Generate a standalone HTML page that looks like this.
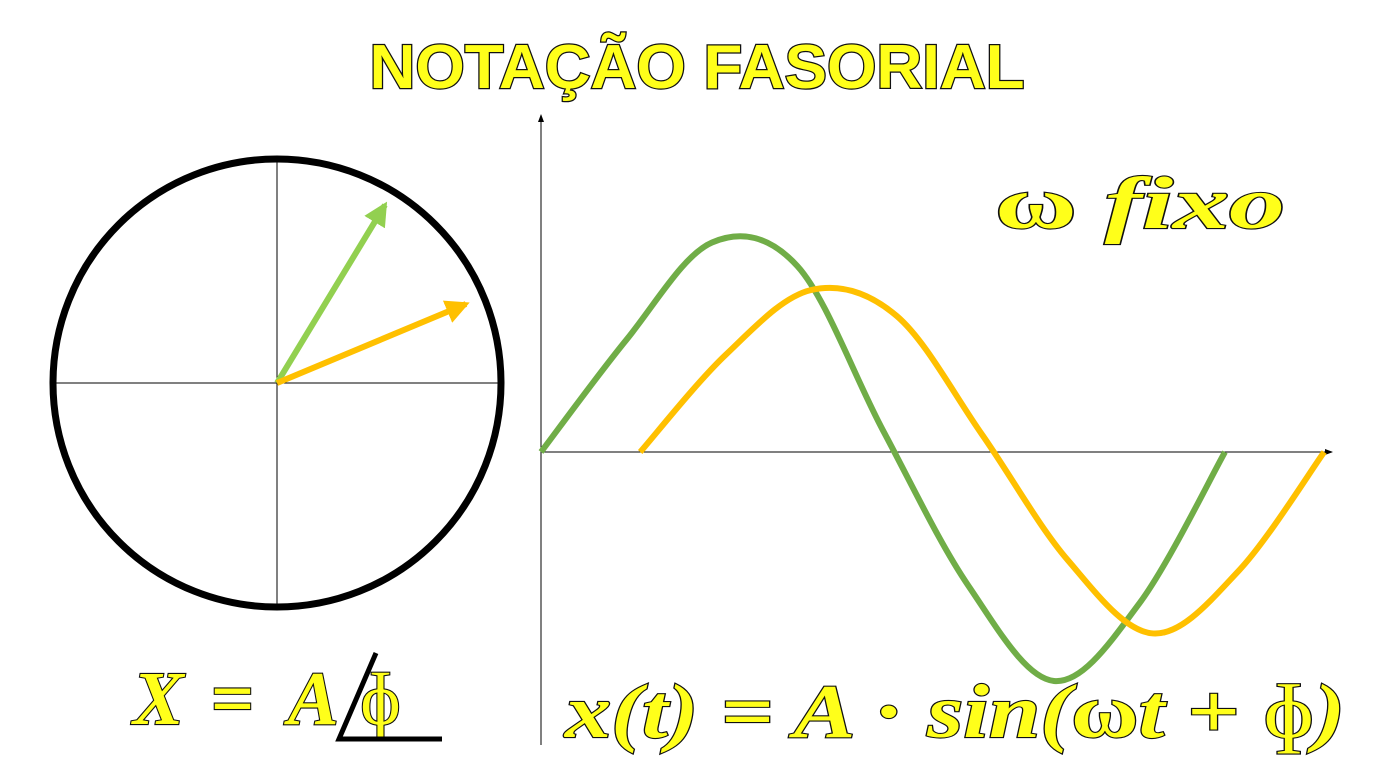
<!DOCTYPE html>
<html><head><meta charset="utf-8"><style>
html,body{margin:0;padding:0;background:#fff;}
svg{display:block;}
.yt{fill:#ffff1a;stroke:#111;stroke-width:2.2;paint-order:stroke;font-family:"Liberation Serif",serif;font-weight:bold;font-style:italic;}
.up{font-style:normal;}
</style></head><body>
<svg id="chart" width="1391" height="775" viewBox="0 0 1391 775">
<defs>
<marker id="ah" markerWidth="8" markerHeight="8" refX="7" refY="4" orient="auto" markerUnits="userSpaceOnUse"><path d="M0,1 L8,4 L0,7 z" fill="#000"/></marker>
<marker id="ag" markerWidth="26" markerHeight="24" refX="20" refY="12" orient="auto" markerUnits="userSpaceOnUse"><path d="M0,0 L24,12 L0,24 z" fill="#92d050"/></marker>
<marker id="ay" markerWidth="26" markerHeight="24" refX="20" refY="12" orient="auto" markerUnits="userSpaceOnUse"><path d="M0,0 L24,12 L0,24 z" fill="#ffc000"/></marker>
</defs>
<text x="697" y="88" text-anchor="middle" textLength="655" lengthAdjust="spacingAndGlyphs" font-family="Liberation Sans, sans-serif" font-weight="bold" font-size="62" fill="#ffff1a" stroke="#111" stroke-width="2.5" paint-order="stroke">NOTAÇÃO FASORIAL</text>

<g>
<line x1="52" y1="383" x2="502" y2="383" stroke="#000" stroke-width="1"/>
<line x1="277" y1="160" x2="277" y2="607" stroke="#000" stroke-width="1"/>
<circle cx="277" cy="383" r="224" fill="none" stroke="#000" stroke-width="7"/>
<line x1="277" y1="383" x2="385" y2="205" stroke="#92d050" stroke-width="6" marker-end="url(#ag)"/>
<line x1="277" y1="383" x2="466" y2="304" stroke="#ffc000" stroke-width="6" marker-end="url(#ay)"/>
</g>

<line x1="541" y1="745" x2="541" y2="115" stroke="#000" stroke-width="1" marker-end="url(#ah)"/>
<line x1="541" y1="452" x2="1332" y2="452" stroke="#000" stroke-width="1" marker-end="url(#ah)"/>
<g id="curves"></g>

<text class="yt" x="995" y="228" font-size="74" textLength="290" lengthAdjust="spacingAndGlyphs"><tspan class="up">ω</tspan> fixo</text>
<text class="yt" x="133" y="724" font-size="76">X</text>
<text class="yt up" x="211" y="724" font-size="76">=</text>
<text class="yt" x="288" y="724" font-size="76">A</text>
<text class="yt up" x="360" y="724" font-size="74" style="font-weight:normal">ɸ</text>
<polyline points="376,653 339,739 442,739" fill="none" stroke="#000" stroke-width="5"/>
<text class="yt" x="565" y="737" font-size="76" textLength="780" lengthAdjust="spacingAndGlyphs">x(t) <tspan class="up">=</tspan> A <tspan class="up">·</tspan> sin(<tspan class="up">ω</tspan>t <tspan class="up">+</tspan> <tspan class="up" style="font-weight:normal">ɸ</tspan>)</text>
</svg>
<script>
// phase fraction samples (0..1 of one period)
const phases = [0, 0.125, 0.25, 0.375, 0.5, 0.625, 0.75, 0.875, 1];
const greenValues = [0, 0.52, 0.97, 0.86, 0.1, -0.62, -1.06, -0.7, 0];
const yellowValues = [0, 0.45, 0.75, 0.63, 0.08, -0.5, -0.84, -0.55, 0];
const greenStart = 0, yellowStart = 0.145; // in periods from y-axis
const x0 = 541, periodPx = 684, y0 = 452, ampPx = 216;
const xs = p => x0 + p * periodPx;
const ys = v => y0 - v * ampPx;
function path(start, vals){
  const pts = phases.map((p,i)=>[xs(start+p), ys(vals[i])]);
  let d = `M${pts[0][0]},${pts[0][1]}`;
  for(let i=0;i<pts.length-1;i++){
    const p0=pts[Math.max(i-1,0)],p1=pts[i],p2=pts[i+1],p3=pts[Math.min(i+2,pts.length-1)];
    const c1=[p1[0]+(p2[0]-p0[0])/6,p1[1]+(p2[1]-p0[1])/6];
    const c2=[p2[0]-(p3[0]-p1[0])/6,p2[1]-(p3[1]-p1[1])/6];
    d+=` C${c1[0]},${c1[1]} ${c2[0]},${c2[1]} ${p2[0]},${p2[1]}`;
  }
  return d;
}
const g = document.getElementById('curves');
const ns = 'http://www.w3.org/2000/svg';
const gp = document.createElementNS(ns,'path');
gp.setAttribute('d', path(greenStart, greenValues));
gp.setAttribute('fill','none'); gp.setAttribute('stroke','#70ad47'); gp.setAttribute('stroke-width','6');


g.appendChild(gp);
const yp = document.createElementNS(ns,'path');
yp.setAttribute('d', path(yellowStart, yellowValues));
yp.setAttribute('fill','none'); yp.setAttribute('stroke','#ffc000'); yp.setAttribute('stroke-width','6');


g.appendChild(yp);
</script>
</body></html>
